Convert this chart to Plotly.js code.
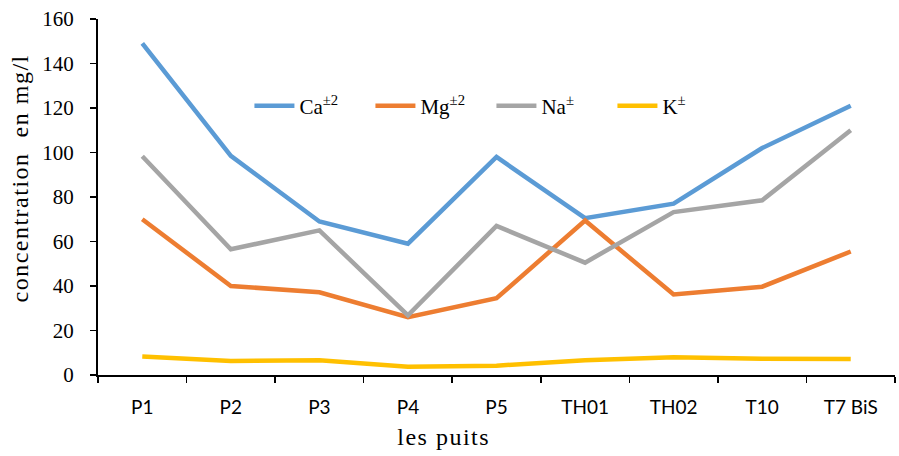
<!DOCTYPE html>
<html>
<head>
<meta charset="utf-8">
<script src="https://cdn.plot.ly/plotly-3.0.1.min.js"></script>
<style>
html,body{margin:0;padding:0;background:#fff;}
#chart{width:899px;height:456px;}
#chart .annotation-text{letter-spacing:1.5px;}
</style>
</head>
<body>
<div id="chart"></div>
<script>
var categories = ["P1", "P2", "P3", "P4", "P5", "TH01", "TH02", "T10", "T7 BiS"];
var ca = [149, 98.5, 69, 59, 98, 70.5, 77, 102, 121];
var mg = [70, 40, 37.2, 26, 34.5, 69.4, 36.2, 39.7, 55.5];
var na = [98.3, 56.5, 65, 26.8, 67, 50.5, 73.2, 78.5, 110];
var k = [8.3, 6.3, 6.6, 3.7, 4.2, 6.6, 8, 7.3, 7.2];
var seriesNames = ["Ca<sup>±2</sup>", "Mg<sup>±2</sup>", "Na<sup>±</sup>", "K<sup>±</sup>"];
var colors = ["#5B9BD5", "#ED7D31", "#A5A5A5", "#FFC000"];
var yTicks = [0, 20, 40, 60, 80, 100, 120, 140, 160];
var xTitle = "les puits";
var yTitle = "concentration  en mg/l";

var data = [ca, mg, na, k].map(function(v, i) {
  return {
    x: categories, y: v, type: "scatter", mode: "lines",
    name: seriesNames[i],
    line: {color: colors[i], width: 4.5}
  };
});

var layout = {
  width: 899, height: 456,
  margin: {l: 98, r: 4, t: 19, b: 81},
  paper_bgcolor: "#fff", plot_bgcolor: "#fff",
  font: {family: "Liberation Serif, Times New Roman, serif", color: "#000", size: 16},
  showlegend: true,
  legend: {
    orientation: "h", x: 0.19, y: 0.755, xanchor: "left", yanchor: "middle",
    font: {family: "Liberation Serif, serif", size: 21, color: "#000"},
    bgcolor: "rgba(0,0,0,0)", itemwidth: 40, tracegroupgap: 0,
    entrywidth: 66, entrywidthmode: "pixels"
  },
  xaxis: {
    type: "category", tickson: "boundaries", ticks: "outside", ticklen: 6,
    tickcolor: "#000", tickwidth: 1.5, ticklabelstandoff: 14,
    showline: true, linecolor: "#000", linewidth: 2, showgrid: false, zeroline: false,
    tickfont: {family: "Lato, Liberation Sans, sans-serif", size: 19, color: "#000"},
    range: [-0.5, 8.5]
  },
  yaxis: {
    range: [0, 160], tickvals: yTicks, ticktext: yTicks.map(String),
    ticks: "outside", ticklen: 6, tickcolor: "#000", tickwidth: 1.5, ticklabelstandoff: 12,
    showline: true, linecolor: "#000", linewidth: 2, showgrid: false, zeroline: false,
    tickfont: {family: "Liberation Serif, serif", size: 21, color: "#000"}
  },
  annotations: [
    {text: xTitle, xref: "paper", yref: "paper", x: 0.434, y: -0.175,
     xanchor: "center", yanchor: "middle", showarrow: false,
     font: {family: "Liberation Serif, serif", size: 24, color: "#000"}},
    {text: yTitle, xref: "paper", yref: "paper", x: -0.098, y: 0.553,
     xanchor: "center", yanchor: "middle", showarrow: false, textangle: -90,
     font: {family: "Liberation Serif, serif", size: 24, color: "#000"}}
  ]
};

Plotly.newPlot("chart", data, layout, {displayModeBar: false, staticPlot: true});
</script>
</body>
</html>
